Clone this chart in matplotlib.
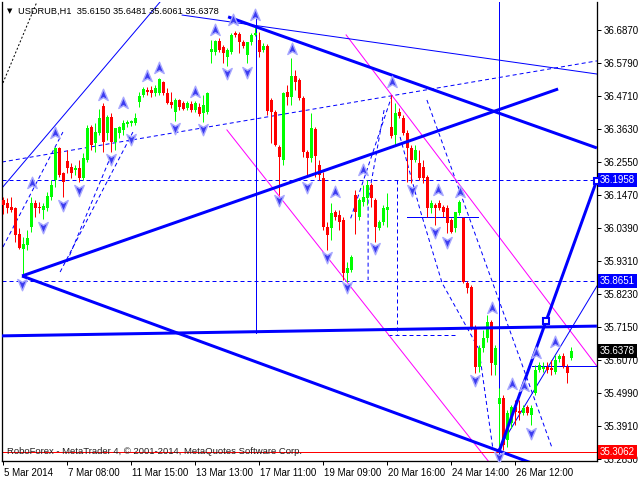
import matplotlib
matplotlib.use("Agg")
import matplotlib.pyplot as plt
from matplotlib.path import Path
import matplotlib.transforms as mtransforms

# ---------------- data (price units, x = bar index) ----------------
opens = [36.131,36.121,36.108,36.104,36.019,35.970,35.983,36.042,36.121,36.108,
         36.098,36.104,36.141,36.196,36.301,36.219,36.258,36.239,36.229,36.235,
         36.203,36.262,36.369,36.317,36.350,36.438,36.350,36.402,36.320,36.350,
         36.360,36.379,36.383,36.383,36.451,36.474,36.491,36.491,36.481,36.481,
         36.517,36.481,36.451,36.419,36.458,36.448,36.432,36.445,36.425,36.435,
         36.415,36.419,36.615,36.615,36.651,36.631,36.599,36.615,36.677,36.674,
         36.648,36.605,36.648,36.671,36.654,36.622,36.635,36.458,36.419,36.304,
         36.262,36.484,36.468,36.536,36.523,36.464,36.288,36.268,36.363,36.245,
         36.203,36.042,36.039,36.091,36.082,36.065,35.892,35.902,36.147,36.075,
         36.124,36.137,36.180,36.131,36.039,36.059,36.098,36.369,36.343,36.419,
         36.399,36.350,36.301,36.262,36.252,36.239,36.206,36.104,36.114,36.121,
         36.108,36.104,36.065,36.039,36.088,36.072,35.859,35.846,35.712,35.584,
         35.646,35.679,35.731,35.590,35.463,35.483,35.345,35.401,35.453,35.440,
         35.434,35.453,35.427,35.499,35.574,35.578,35.584,35.581,35.568,35.610,
         35.620,35.584,35.6150]
highs = [36.140,36.137,36.140,36.108,36.039,36.010,36.033,36.140,36.131,36.124,
         36.121,36.157,36.196,36.304,36.304,36.222,36.294,36.252,36.245,36.262,
         36.285,36.376,36.376,36.382,36.428,36.448,36.409,36.415,36.366,36.373,
         36.393,36.393,36.393,36.415,36.484,36.501,36.501,36.504,36.507,36.530,
         36.520,36.497,36.484,36.465,36.461,36.455,36.455,36.455,36.455,36.448,
         36.474,36.484,36.654,36.654,36.661,36.638,36.628,36.677,36.684,36.680,
         36.654,36.644,36.677,36.703,36.680,36.644,36.641,36.464,36.425,36.311,
         36.484,36.507,36.595,36.556,36.530,36.471,36.294,36.415,36.370,36.262,
         36.222,36.059,36.121,36.098,36.098,36.075,35.928,35.951,36.163,36.137,
         36.180,36.196,36.186,36.137,36.065,36.114,36.154,36.474,36.448,36.432,
         36.409,36.360,36.311,36.311,36.294,36.262,36.212,36.131,36.121,36.131,
         36.114,36.114,36.072,36.091,36.131,36.075,35.866,35.852,35.722,35.656,
         35.705,35.754,35.738,35.656,35.515,35.492,35.443,35.460,35.476,35.476,
         35.460,35.460,35.460,35.590,35.600,35.600,35.600,35.607,35.623,35.626,
         35.630,35.594,35.6481]
lows = [36.085,36.088,36.091,35.993,35.970,35.879,35.967,36.026,36.075,36.088,
        36.068,36.095,36.131,36.173,36.206,36.140,36.219,36.203,36.212,36.190,
        36.196,36.255,36.294,36.288,36.343,36.288,36.327,36.288,36.294,36.334,
        36.343,36.370,36.373,36.376,36.435,36.468,36.474,36.468,36.471,36.474,
        36.474,36.445,36.432,36.389,36.425,36.425,36.425,36.419,36.419,36.406,
        36.386,36.412,36.579,36.605,36.615,36.579,36.569,36.608,36.664,36.612,
        36.628,36.579,36.638,36.667,36.599,36.615,36.409,36.317,36.307,36.147,
        36.245,36.442,36.442,36.491,36.458,36.271,36.212,36.255,36.206,36.196,
        36.033,35.967,36.000,36.065,36.033,35.869,35.862,35.895,36.019,36.065,
        36.111,36.114,36.108,35.993,36.033,36.049,36.042,36.334,36.311,36.399,
        36.343,36.190,36.186,36.255,36.196,36.186,36.075,36.088,36.049,36.098,
        36.075,36.023,36.023,36.026,36.082,35.859,35.826,35.705,35.565,35.568,
        35.633,35.666,35.558,35.558,35.3062,35.313,35.322,35.384,35.394,35.411,
        35.427,35.427,35.394,35.492,35.568,35.568,35.565,35.558,35.561,35.600,
        35.581,35.532,35.6061]
closes = [36.114,36.105,36.098,36.016,35.974,35.987,36.006,36.121,36.104,36.104,
          36.111,36.144,36.180,36.301,36.212,36.190,36.235,36.219,36.235,36.203,
          36.268,36.366,36.311,36.353,36.399,36.320,36.402,36.320,36.366,36.370,
          36.383,36.386,36.389,36.399,36.471,36.494,36.484,36.481,36.497,36.527,
          36.481,36.448,36.442,36.458,36.435,36.428,36.448,36.425,36.448,36.412,
          36.442,36.481,36.625,36.651,36.622,36.612,36.622,36.671,36.671,36.647,
          36.635,36.648,36.671,36.677,36.615,36.635,36.422,36.419,36.311,36.271,
          36.481,36.468,36.536,36.517,36.464,36.288,36.268,36.366,36.275,36.212,
          36.042,36.016,36.088,36.075,36.059,35.892,35.908,35.944,36.091,36.131,
          36.140,36.180,36.137,36.042,36.059,36.104,36.108,36.340,36.415,36.406,
          36.350,36.301,36.262,36.294,36.203,36.203,36.104,36.121,36.104,36.104,
          36.091,36.055,36.026,36.091,36.124,35.862,35.843,35.715,35.584,35.646,
          35.679,35.731,35.597,35.646,35.483,35.329,35.434,35.453,35.437,35.434,
          35.450,35.434,35.450,35.574,35.590,35.584,35.574,35.574,35.607,35.620,
          35.587,35.565,35.6378]

date_ticks = [0, 16, 32, 48, 64, 80, 96, 112, 128]
date_labels = ["5 Mar 2014", "7 Mar 08:00", "11 Mar 15:00", "13 Mar 13:00",
               "17 Mar 11:00", "19 Mar 09:00", "20 Mar 16:00", "24 Mar 14:00",
               "26 Mar 12:00"]
price_ticks = [36.6870, 36.5790, 36.4710, 36.3630, 36.2550, 36.1470, 36.0390,
               35.9310, 35.8230, 35.7150, 35.6070, 35.4990, 35.3910, 35.2830]

# analysis objects (bar index, price)
thick_lines = [[(4.68, 35.882), (138.7, 36.494)],
               [(56.2, 36.730), (148.4, 36.301)],
               [(4.68, 35.882), (135.4, 35.254)],
               [(-0.33, 35.686), (148.4, 35.718)],
               [(123.9, 35.306), (148.4, 36.196)]]
thin_lines = [[(-0.33, 36.170), (39.2, 36.779)],
              [(44.7, 36.736), (148.4, 36.543)],
              [(123.4, 35.306), (148.4, 35.849)],
              [(132.2, 35.587), (148.4, 35.587)],
              [(100.9, 36.075), (118.7, 36.075)],
              [(63.2, 36.730), (63.2, 35.695)],
              [(123.9, 36.80), (123.9, 35.20)]]
dashed_lines = [[(-0.33, 36.1958), (148.4, 36.1958)],
                [(-0.33, 35.8651), (148.4, 35.8651)],
                [(-0.33, 36.255), (148.4, 36.586)],
                [(-0.08, 35.977), (14.9, 36.353)],
                [(14.2, 35.895), (32.4, 36.353)],
                [(15.9, 35.928), (26.7, 36.268)],
                [(97.2, 36.474), (86.7, 36.065)],
                [(95.2, 36.425), (91.2, 36.131), (91.2, 35.869)],
                [(98.4, 36.196), (98.4, 35.689)],
                [(96.2, 35.689), (113.7, 35.689)],
                [(105.9, 36.458), (137.2, 35.319)],
                [(99.2, 36.337), (104.2, 36.098), (109.7, 35.859), (118.9, 35.643), (122.4, 35.316)]]
black_dashed = [[(-0.08, 36.514), (8.4, 36.779)]]
magenta_lines = [[(55.9, 36.360), (121.2, 35.277)],
                 [(85.7, 36.671), (148.4, 35.587)]]
square_x = [135.7, 148.4]
square_y = [35.735, 36.193]
up_x = [7.2, 12.9, 24.9, 29.9, 35.9, 38.9, 47.9, 52.9, 57.4, 62.9, 72.2, 82.9,
        89.9, 97.2, 108.7, 114.2, 122.2, 127.2, 130.2, 133.2, 137.9]
up_y = [36.186, 36.350, 36.474, 36.448, 36.537, 36.563, 36.484, 36.687, 36.720,
        36.736, 36.625, 36.157, 36.229, 36.517, 36.163, 36.157, 35.777, 35.529,
        35.522, 35.630, 35.666]
dn_x = [4.7, 9.9, 14.9, 18.9, 26.9, 31.9, 42.9, 49.9, 55.9, 60.9, 68.9, 75.9,
        80.9, 85.9, 92.9, 102.2, 107.9, 110.9, 117.9, 123.9, 131.9]
dn_y = [35.856, 36.042, 36.114, 36.163, 36.265, 36.330, 36.366, 36.363, 36.546,
        36.550, 36.131, 36.173, 35.944, 35.846, 35.974, 36.163, 36.026, 35.993,
        35.542, 35.290, 35.368]
ask_line = 35.3062
level_hi = 36.1958
level_lo = 35.8651
last_price = 35.6378

# ---------------- figure ----------------
plt.rcParams['font.family'] = ['Liberation Sans', 'DejaVu Sans']
W, H = 640, 480
fig = plt.figure(figsize=(6.4, 4.8), dpi=100)
ax = fig.add_axes([2 / W, 19 / H, 595 / W, 459 / H])
ax.set_xlim(-0.325, 148.425)
ax.set_ylim(35.2765, 36.7787)
BLUE = "#0000FF"
px = 0.72  # one pixel in points

# analysis lines
for seg in dashed_lines:
    xs, ys = zip(*seg)
    ax.plot(xs, ys, color=BLUE, lw=px, ls=(0, (4, 3)), zorder=2)
for seg in black_dashed:
    xs, ys = zip(*seg)
    ax.plot(xs, ys, color="black", lw=px, ls=(0, (2, 2)), zorder=2)
for seg in magenta_lines:
    xs, ys = zip(*seg)
    ax.plot(xs, ys, color="#FF00FF", lw=px, zorder=2)
for seg in thin_lines:
    xs, ys = zip(*seg)
    ax.plot(xs, ys, color=BLUE, lw=px, zorder=2)
ax.axhline(ask_line, color="#FF0000", lw=px, zorder=2)

# candles
for i, (o, h, l, c) in enumerate(zip(opens, highs, lows, closes)):
    col = "#00FF00" if c >= o else "#FF0000"
    ax.vlines(i, l, h, color=col, lw=px, zorder=3)
    lo, hi = min(o, c), max(o, c)
    ax.bar(i, max(hi - lo, 0.0033), bottom=lo, width=0.75, color=col,
           edgecolor="none", zorder=3)

for seg in thick_lines:
    xs, ys = zip(*seg)
    ax.plot(xs, ys, color=BLUE, lw=3 * px, zorder=4, solid_capstyle="butt")
ax.plot(square_x, square_y, ls="none", marker="s", ms=5, mfc="white",
        mec=BLUE, mew=1.5, zorder=5)

# fractal arrows
up_path = Path([(0, 1), (0.75, -0.8), (0, -0.35), (-0.75, -0.8), (0, 1)],
               [Path.MOVETO, Path.LINETO, Path.LINETO, Path.LINETO, Path.CLOSEPOLY])
dn_path = Path([(0, -1), (0.75, 0.8), (0, 0.35), (-0.75, 0.8), (0, -1)],
               [Path.MOVETO, Path.LINETO, Path.LINETO, Path.LINETO, Path.CLOSEPOLY])
ax.plot(up_x, up_y, ls="none", marker=up_path, ms=9, mfc="#3c3cf0",
        mec="#a8a8ff", mew=1, zorder=5)
ax.plot(dn_x, dn_y, ls="none", marker=dn_path, ms=9, mfc="#3c3cf0",
        mec="#a8a8ff", mew=1, zorder=5)

# axes styling
ax.spines["top"].set_visible(False)
for s in ["left", "right", "bottom"]:
    ax.spines[s].set_linewidth(px * 1.3)
ax.yaxis.tick_right()
ax.set_yticks(price_ticks)
ax.set_yticklabels([f"{v:.4f}" for v in price_ticks])
ax.tick_params(axis="y", direction="out", length=3, width=px, labelsize=7,
               pad=2)
ax.set_xticks(date_ticks)
ax.set_xticklabels(date_labels, ha="left")
ax.tick_params(axis="x", direction="out", length=3, width=px, labelsize=7, pad=2)

offset = mtransforms.ScaledTranslation(1 / 100, 0, fig.dpi_scale_trans)
for lbl in ax.get_xticklabels():
    lbl.set_transform(lbl.get_transform() + offset)

# coloured price labels
trans = mtransforms.blended_transform_factory(ax.transAxes, ax.transData)
for val, bg in [(level_hi, BLUE), (level_lo, BLUE), (last_price, "black"),
                (ask_line, "#FF0000")]:
    ax.text(1.005, val, f"{val:.4f}", transform=trans, fontsize=7, color="white",
            va="center", ha="left", zorder=10, clip_on=False,
            bbox=dict(boxstyle="square,pad=0.2", fc=bg, ec="none"))

# texts
fig.text(18 / W, 1 - 11 / H, "USDRUB,H1  35.6150 35.6481 35.6061 35.6378",
         fontsize=6.7, va="center", ha="left")
fig.text(7 / W, 1 - 11 / H, "\u25BC", fontsize=5, va="center", ha="left",
         family="DejaVu Sans")
ax.text(5 / 595, (461 - 452) / 459,
        "RoboForex - MetaTrader 4, \u00A9 2001-2014, MetaQuotes Software Corp.",
        transform=ax.transAxes, fontsize=6.8, va="center", ha="left",
        color="#202020", zorder=6)

fig.savefig("out.png", dpi=100)
